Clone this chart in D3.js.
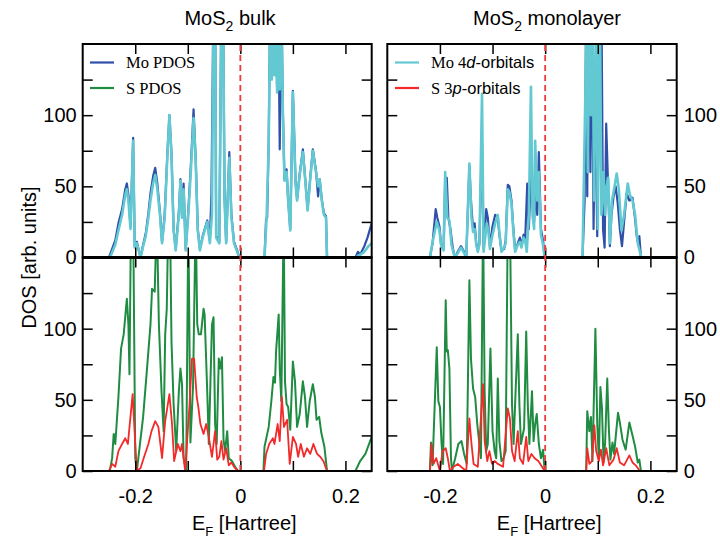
<!DOCTYPE html>
<html>
<head>
<meta charset="utf-8">
<script src="https://cdn.jsdelivr.net/npm/d3@7"></script>
<style>
    body { margin: 0; background: #fff; }
    svg { display: block; }
    text { font-family: "Liberation Sans", Arial, sans-serif; fill: #000; }
</style>
</head>
<body>
<div id="chart"></div>
<script>
// Energy axis (Hartree) and DOS axis
const xDomain = [-0.3, 0.25];
const yDomain = [0, 150];
const xTickValues = [-0.2, -0.1, 0, 0.1, 0.2];
const xTickLabels = {"-0.2": "-0.2", "0": "0", "0.2": "0.2"};
const yTickValues = [0, 25, 50, 75, 100, 125];
const yTickLabels = {"0": "0", "50": "50", "100": "100"};

// MoS2 bulk, [E, DOS]
const bulkMoPdos = [[-0.3,0],[-0.250,0],[-0.248,2],[-0.238,12],[-0.232,24],[-0.225,34],[-0.219,48],[-0.216,52],[-0.213,44],[-0.209,22],[-0.204,84],[-0.201,8],[-0.197,11],[-0.190,0],[-0.185,9],[-0.180,17],[-0.175,31],[-0.171,45],[-0.166,57],[-0.162,63],[-0.158,52],[-0.153,32],[-0.149,11],[-0.144,30],[-0.139,72],[-0.135,100],[-0.131,73],[-0.127,20],[-0.123,6],[-0.117,32],[-0.114,55],[-0.111,30],[-0.108,52],[-0.104,6],[-0.099,33],[-0.094,66],[-0.089,104],[-0.085,70],[-0.081,20],[-0.077,6],[-0.071,16],[-0.063,26],[-0.058,12],[-0.055,45],[-0.051,185],[-0.048,185],[-0.046,15],[-0.040,11],[-0.036,185],[-0.033,185],[-0.030,42],[-0.027,11],[-0.021,74],[-0.017,30],[-0.012,11],[-0.006,5],[-0.002,0],[0.046,0],[0.049,27],[0.051,28],[0.054,82],[0.057,185],[0.060,128],[0.062,185],[0.065,130],[0.067,185],[0.070,118],[0.072,185],[0.075,76],[0.078,185],[0.081,102],[0.084,55],[0.088,62],[0.091,41],[0.095,20],[0.100,117],[0.103,80],[0.105,54],[0.108,41],[0.113,59],[0.119,76],[0.124,53],[0.128,34],[0.133,56],[0.138,76],[0.144,61],[0.148,43],[0.151,55],[0.155,41],[0.159,31],[0.163,29],[0.165,0],[0.219,0],[0.224,4],[0.228,2],[0.236,8],[0.242,14],[0.25,24]];
const bulkMo4d = [[-0.3,0],[-0.250,0],[-0.248,0],[-0.238,9],[-0.232,19],[-0.225,30],[-0.219,44],[-0.216,48],[-0.213,40],[-0.209,20],[-0.204,82],[-0.201,7],[-0.197,10],[-0.190,0],[-0.185,8],[-0.180,15],[-0.175,28],[-0.171,40],[-0.166,52],[-0.162,58],[-0.158,48],[-0.153,30],[-0.149,10],[-0.144,28],[-0.139,70],[-0.135,100],[-0.131,72],[-0.127,19],[-0.123,5],[-0.117,30],[-0.114,54],[-0.111,28],[-0.108,48],[-0.104,5],[-0.099,30],[-0.094,62],[-0.089,98],[-0.085,68],[-0.081,19],[-0.077,5],[-0.071,15],[-0.063,25],[-0.058,10],[-0.054,30],[-0.051,180],[-0.048,180],[-0.046,14],[-0.040,10],[-0.036,180],[-0.033,180],[-0.030,40],[-0.027,10],[-0.021,70],[-0.017,28],[-0.012,10],[-0.006,4],[-0.002,0],[0.046,0],[0.050,28],[0.054,80],[0.057,180],[0.060,125],[0.062,180],[0.065,128],[0.067,180],[0.070,116],[0.072,180],[0.075,118],[0.078,180],[0.081,100],[0.084,54],[0.088,60],[0.091,40],[0.095,19],[0.100,116],[0.103,78],[0.105,52],[0.108,40],[0.113,58],[0.119,74],[0.124,52],[0.128,33],[0.133,55],[0.138,75],[0.144,60],[0.148,50],[0.151,55],[0.155,40],[0.159,30],[0.163,28],[0.165,0],[0.219,0],[0.228,2],[0.236,4],[0.244,8],[0.25,10]];
const bulkSPdos = [[-0.3,0],[-0.250,0],[-0.248,1],[-0.244,9],[-0.241,26],[-0.238,19],[-0.232,52],[-0.227,86],[-0.222,96],[-0.216,121],[-0.213,103],[-0.211,68],[-0.208,180],[-0.204,180],[-0.200,9],[-0.197,0],[-0.191,19],[-0.185,38],[-0.178,70],[-0.171,103],[-0.168,128],[-0.163,126],[-0.159,180],[-0.155,103],[-0.150,56],[-0.146,28],[-0.143,96],[-0.140,114],[-0.137,180],[-0.134,180],[-0.131,91],[-0.127,47],[-0.122,14],[-0.117,56],[-0.114,72],[-0.111,61],[-0.108,9],[-0.103,0],[-0.099,180],[-0.095,20],[-0.090,60],[-0.085,180],[-0.082,103],[-0.079,96],[-0.075,96],[-0.070,114],[-0.068,110],[-0.063,56],[-0.060,19],[-0.054,103],[-0.051,108],[-0.048,33],[-0.045,19],[-0.041,79],[-0.038,72],[-0.035,80],[-0.032,22],[-0.029,14],[-0.025,28],[-0.022,9],[-0.016,7],[-0.010,3],[-0.004,0],[0.044,0],[0.046,17],[0.054,31],[0.059,49],[0.063,66],[0.066,62],[0.068,84],[0.073,110],[0.075,72],[0.078,49],[0.0825,180],[0.085,63],[0.088,47],[0.091,45],[0.095,29],[0.100,77],[0.104,63],[0.108,31],[0.113,40],[0.119,63],[0.123,52],[0.127,31],[0.132,49],[0.138,61],[0.142,52],[0.145,36],[0.150,38],[0.154,27],[0.160,17],[0.165,0],[0.219,0],[0.228,7],[0.238,12],[0.25,24]];
const bulkS3p = [[-0.3,0],[-0.250,0],[-0.244,5],[-0.238,3],[-0.232,14],[-0.225,19],[-0.219,23],[-0.214,19],[-0.205,54],[-0.201,26],[-0.197,0],[-0.190,2],[-0.184,9],[-0.175,19],[-0.169,28],[-0.162,35],[-0.156,31],[-0.149,9],[-0.143,35],[-0.135,54],[-0.130,33],[-0.126,7],[-0.119,19],[-0.114,14],[-0.111,19],[-0.105,0],[-0.097,45],[-0.092,79],[-0.088,79],[-0.083,52],[-0.080,45],[-0.076,33],[-0.070,26],[-0.065,33],[-0.061,26],[-0.054,10],[-0.048,28],[-0.044,8],[-0.040,10],[-0.036,21],[-0.032,8],[-0.027,16],[-0.022,4],[-0.017,6],[-0.010,2],[-0.004,0],[0.045,0],[0.049,12],[0.055,19],[0.062,23],[0.065,19],[0.071,33],[0.075,21],[0.079,52],[0.083,31],[0.089,36],[0.094,5],[0.100,24],[0.106,19],[0.110,10],[0.115,19],[0.121,10],[0.127,16],[0.133,12],[0.139,19],[0.146,12],[0.152,10],[0.158,7],[0.165,0],[0.25,0]];

// MoS2 monolayer, [E, DOS]
const monoMoPdos = [[-0.3,0],[-0.219,0],[-0.214,10],[-0.208,34],[-0.205,28],[-0.201,22],[-0.198,10],[-0.193,6],[-0.190,54],[-0.187,56],[-0.184,28],[-0.180,20],[-0.176,8],[-0.172,0],[-0.166,4],[-0.160,8],[-0.154,4],[-0.150,0],[-0.144,64],[-0.141,40],[-0.137,20],[-0.134,24],[-0.131,10],[-0.128,5],[-0.125,10],[-0.120,82],[-0.117,6],[-0.112,34],[-0.109,28],[-0.105,8],[-0.100,22],[-0.095,30],[-0.090,28],[-0.087,16],[-0.083,5],[-0.078,6],[-0.075,12],[-0.071,51],[-0.068,50],[-0.064,40],[-0.060,18],[-0.057,5],[-0.052,10],[-0.048,14],[-0.045,8],[-0.041,16],[-0.038,12],[-0.034,52],[-0.031,20],[-0.027,60],[-0.024,36],[-0.021,25],[-0.019,45],[-0.015,30],[-0.012,74],[-0.008,20],[-0.004,12],[-0.001,0],[0.071,0],[0.075,40],[0.078,180],[0.080,43],[0.082,180],[0.086,60],[0.089,180],[0.092,20],[0.095,120],[0.099,15],[0.103,180],[0.107,180],[0.110,20],[0.113,7],[0.116,94],[0.120,46],[0.123,8],[0.126,30],[0.130,43],[0.134,50],[0.138,38],[0.142,20],[0.146,8],[0.150,25],[0.155,45],[0.160,40],[0.166,42],[0.170,30],[0.175,12],[0.179,15],[0.182,0],[0.25,0]];
const monoMo4d = [[-0.3,0],[-0.219,0],[-0.215,9],[-0.206,25],[-0.201,19],[-0.198,9],[-0.193,5],[-0.190,60],[-0.186,28],[-0.182,26],[-0.178,9],[-0.172,0],[-0.166,3],[-0.160,7],[-0.154,3],[-0.150,0],[-0.144,66],[-0.140,28],[-0.137,18],[-0.134,20],[-0.131,9],[-0.128,4],[-0.125,9],[-0.120,115],[-0.117,4],[-0.111,24],[-0.108,19],[-0.105,6],[-0.100,16],[-0.095,24],[-0.090,30],[-0.087,18],[-0.083,4],[-0.078,7],[-0.075,10],[-0.071,48],[-0.068,46],[-0.064,38],[-0.060,16],[-0.057,4],[-0.052,9],[-0.048,11],[-0.045,7],[-0.041,14],[-0.038,12],[-0.035,4],[-0.031,30],[-0.027,120],[-0.024,30],[-0.021,20],[-0.019,82],[-0.015,40],[-0.012,60],[-0.008,16],[-0.004,9],[-0.001,0],[0.071,0],[0.0765,117],[0.079,180],[0.081,60],[0.084,180],[0.087,100],[0.090,180],[0.093,40],[0.097,180],[0.100,20],[0.104,180],[0.107,30],[0.111,60],[0.114,30],[0.117,50],[0.120,56],[0.123,10],[0.127,40],[0.132,50],[0.136,59],[0.140,48],[0.145,19],[0.150,30],[0.157,52],[0.161,44],[0.166,40],[0.171,30],[0.176,10],[0.180,4],[0.183,0],[0.25,0]];
const monoSPdos = [[-0.3,0],[-0.219,0],[-0.217,20],[-0.214,4],[-0.206,87],[-0.203,49],[-0.200,45],[-0.197,20],[-0.194,5],[-0.189,120],[-0.187,84],[-0.185,85],[-0.182,72],[-0.179,9],[-0.177,0],[-0.171,9],[-0.165,19],[-0.159,21],[-0.154,12],[-0.149,5],[-0.144,134],[-0.141,79],[-0.137,58],[-0.133,52],[-0.129,33],[-0.125,19],[-0.122,9],[-0.118,180],[-0.115,56],[-0.112,14],[-0.109,19],[-0.104,86],[-0.100,28],[-0.096,14],[-0.093,9],[-0.090,65],[-0.087,21],[-0.083,7],[-0.079,9],[-0.075,14],[-0.071,180],[-0.067,180],[-0.063,47],[-0.060,19],[-0.052,96],[-0.049,47],[-0.046,19],[-0.040,30],[-0.036,98],[-0.033,47],[-0.030,19],[-0.025,56],[-0.022,21],[-0.019,33],[-0.016,40],[-0.012,19],[-0.008,9],[-0.004,15],[-0.001,0],[0.078,0],[0.080,42],[0.084,28],[0.087,38],[0.090,7],[0.0955,100],[0.099,33],[0.102,8],[0.105,59],[0.108,44],[0.111,6],[0.114,20],[0.118,65],[0.121,30],[0.124,8],[0.128,20],[0.131,12],[0.1385,41],[0.142,34],[0.147,22],[0.153,15],[0.160,34],[0.166,25],[0.171,17],[0.176,6],[0.179,8],[0.182,0],[0.25,0]];
const monoS3p = [[-0.3,0],[-0.219,0],[-0.216,19],[-0.212,5],[-0.207,9],[-0.200,0],[-0.195,14],[-0.189,16],[-0.185,9],[-0.181,0],[-0.174,3],[-0.166,5],[-0.160,3],[-0.150,0],[-0.144,37],[-0.140,19],[-0.136,5],[-0.128,3],[-0.118,61],[-0.115,21],[-0.110,7],[-0.106,14],[-0.101,5],[-0.096,7],[-0.090,5],[-0.080,3],[-0.071,44],[-0.067,37],[-0.063,14],[-0.058,7],[-0.052,28],[-0.048,9],[-0.042,5],[-0.036,24],[-0.032,7],[-0.026,12],[-0.020,9],[-0.013,7],[-0.006,3],[-0.001,0],[0.078,0],[0.080,16],[0.084,5],[0.089,7],[0.0935,32],[0.097,14],[0.102,7],[0.106,15],[0.110,4],[0.116,16],[0.122,4],[0.130,8],[0.136,16],[0.142,6],[0.150,4],[0.160,11],[0.166,6],[0.172,4],[0.180,0],[0.25,0]];

const colors = {
    moPdos: "#2f4fa8",
    mo4d: "#62c9d3",
    sPdos: "#1f8c42",
    s3p: "#f22a2a"
};

const width = 720;
const height = 541;
const sans = '"Liberation Sans", Arial, sans-serif';
const serif = '"Liberation Serif", "Times New Roman", serif';

const svg = d3.select("#chart")
    .append("svg")
    .attr("width", width)
    .attr("height", height);

const columns = [
    {x0: 82.7, x1: 371.7, side: "left", title: "bulk", titleX: 230},
    {x0: 387.3, x1: 676.7, side: "right", title: "monolayer", titleX: 547}
];
const rows = [
    {y0: 44, y1: 257.5},
    {y0: 257.5, y1: 471}
];

const panels = [
    {col: 0, row: 0, series: [[bulkMoPdos, colors.moPdos, 2.2], [bulkMo4d, colors.mo4d, 2.6]]},
    {col: 0, row: 1, series: [[bulkSPdos, colors.sPdos, 2], [bulkS3p, colors.s3p, 1.8]]},
    {col: 1, row: 0, series: [[monoMoPdos, colors.moPdos, 2.2], [monoMo4d, colors.mo4d, 2.6]]},
    {col: 1, row: 1, series: [[monoSPdos, colors.sPdos, 2], [monoS3p, colors.s3p, 1.8]]}
];

const defs = svg.append("defs");

panels.forEach((p, i) => {
    const c = columns[p.col];
    const r = rows[p.row];

    const x = d3.scaleLinear().domain(xDomain).range([c.x0, c.x1]);
    const y = d3.scaleLinear().domain(yDomain).range([r.y1, r.y0]);

    defs.append("clipPath")
        .attr("id", "clip" + i)
        .append("rect")
        .attr("x", c.x0)
        .attr("y", r.y0)
        .attr("width", c.x1 - c.x0)
        .attr("height", r.y1 - r.y0);

    const line = d3.line()
        .x(d => x(d[0]))
        .y(d => y(d[1]));

    const g = svg.append("g").attr("clip-path", "url(#clip" + i + ")");

    g.selectAll("path")
        .data(p.series)
        .enter()
        .append("path")
        .attr("fill", "none")
        .attr("stroke", d => d[1])
        .attr("stroke-width", d => d[2])
        .attr("stroke-linejoin", "round")
        .attr("d", d => line(d[0]));

    // inward ticks on all four sides
    const noLabel = () => "";
    const tickStyle = (sel) => {
        sel.select(".domain").remove();
        sel.selectAll(".tick line").attr("stroke", "#000").attr("stroke-width", 1.5);
    };

    svg.append("g")
        .attr("transform", "translate(0," + r.y0 + ")")
        .call(d3.axisBottom(x).tickValues(xTickValues).tickSize(10).tickFormat(noLabel))
        .call(tickStyle);

    svg.append("g")
        .attr("transform", "translate(0," + r.y1 + ")")
        .call(d3.axisTop(x).tickValues(xTickValues).tickSize(10).tickFormat(noLabel))
        .call(tickStyle);

    svg.append("g")
        .attr("transform", "translate(" + c.x0 + ",0)")
        .call(d3.axisRight(y).tickValues(yTickValues).tickSize(10).tickFormat(noLabel))
        .call(tickStyle);

    svg.append("g")
        .attr("transform", "translate(" + c.x1 + ",0)")
        .call(d3.axisLeft(y).tickValues(yTickValues).tickSize(10).tickFormat(noLabel))
        .call(tickStyle);

    // y tick labels on the outer side
    const yLab = c.side === "left"
        ? d3.axisLeft(y).tickSize(0).tickPadding(6)
        : d3.axisRight(y).tickSize(0).tickPadding(7);
    svg.append("g")
        .attr("transform", "translate(" + (c.side === "left" ? c.x0 : c.x1) + ",0)")
        .call(yLab.tickValues([0, 50, 100]).tickFormat(d => yTickLabels[d]))
        .call(sel => sel.select(".domain").remove())
        .selectAll("text")
        .style("font-family", sans)
        .style("font-size", "20px");

    // x tick labels under bottom row
    if (p.row === 1) {
        svg.append("g")
            .attr("transform", "translate(0," + r.y1 + ")")
            .call(d3.axisBottom(x).tickValues([-0.2, 0, 0.2]).tickSize(0).tickPadding(18)
                .tickFormat(d => xTickLabels[String(d)]))
            .call(sel => sel.select(".domain").remove())
            .selectAll("text")
            .style("font-family", sans)
            .style("font-size", "20px");
    }

    svg.append("rect")
        .attr("x", c.x0)
        .attr("y", r.y0)
        .attr("width", c.x1 - c.x0)
        .attr("height", r.y1 - r.y0)
        .attr("fill", "none")
        .attr("stroke", "#000")
        .attr("stroke-width", 2);
});

columns.forEach(c => {
    const x = d3.scaleLinear().domain(xDomain).range([c.x0, c.x1]);

    // thicker line between the two rows
    svg.append("line")
        .attr("x1", c.x0).attr("x2", c.x1)
        .attr("y1", rows[0].y1).attr("y2", rows[0].y1)
        .attr("stroke", "#000")
        .attr("stroke-width", 3);

    // Fermi level
    svg.append("line")
        .attr("x1", x(0)).attr("x2", x(0))
        .attr("y1", rows[0].y0 + 1).attr("y2", rows[1].y1 - 1)
        .attr("stroke", "#f03a3a")
        .attr("stroke-width", 1.8)
        .attr("stroke-dasharray", "6,4");

    const t = svg.append("text")
        .attr("x", c.titleX)
        .attr("y", 25)
        .attr("text-anchor", "middle")
        .style("font-size", "20px");
    t.append("tspan").text("MoS");
    t.append("tspan").attr("dy", 6).style("font-size", "14px").text("2");
    t.append("tspan").attr("dy", -6).text(" " + c.title);

    const xl = svg.append("text")
        .attr("x", x(0) + 4)
        .attr("y", 530)
        .attr("text-anchor", "middle")
        .style("font-size", "20px");
    xl.append("tspan").text("E");
    xl.append("tspan").attr("dy", 6).style("font-size", "13px").text("F");
    xl.append("tspan").attr("dy", -6).text(" [Hartree]");
});

svg.append("text")
    .attr("transform", "translate(36," + rows[0].y1 + ") rotate(-90)")
    .attr("text-anchor", "middle")
    .style("font-size", "20px")
    .text("DOS [arb. units]");

// legends
const legends = [
    {x: 90, items: [
        {color: colors.moPdos, parts: [["Mo PDOS", "serif", "normal"]]},
        {color: colors.sPdos, parts: [["S PDOS", "serif", "normal"]]}
    ]},
    {x: 395, items: [
        {color: colors.mo4d, parts: [["Mo 4", "serif", "normal"], ["d", "sans", "italic"], ["-orbitals", "sans", "normal"]]},
        {color: colors.s3p, parts: [["S 3", "serif", "normal"], ["p", "sans", "italic"], ["-orbitals", "sans", "normal"]]}
    ]}
];

legends.forEach(lg => {
    lg.items.forEach((it, k) => {
        const ly = 62.5 + k * 25.5;
        svg.append("line")
            .attr("x1", lg.x).attr("x2", lg.x + 24)
            .attr("y1", ly).attr("y2", ly)
            .attr("stroke", it.color)
            .attr("stroke-width", 2.2);
        const t = svg.append("text")
            .attr("x", lg.x + 36)
            .attr("y", ly + 5.5)
            .style("font-size", "16.5px");
        it.parts.forEach(pt => {
            t.append("tspan")
                .style("font-family", pt[1] === "serif" ? serif : sans)
                .style("font-style", pt[2])
                .text(pt[0]);
        });
    });
});
</script>
</body>
</html>
